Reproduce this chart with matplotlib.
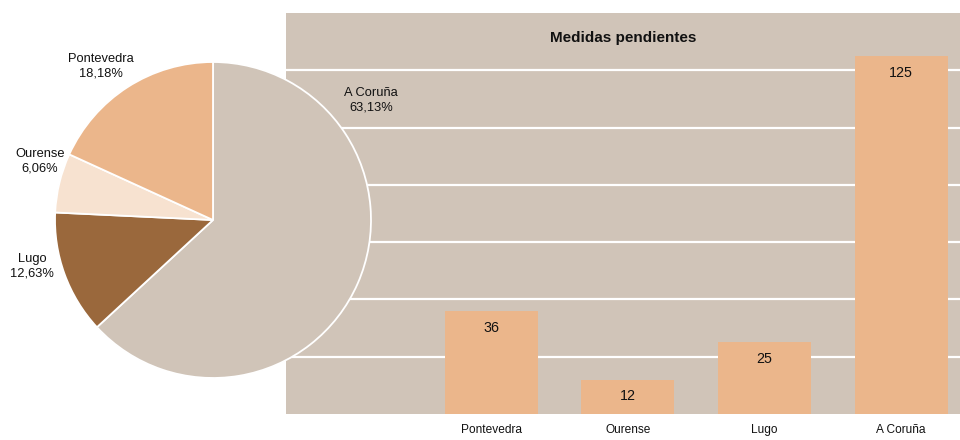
import matplotlib
matplotlib.use("Agg")
import matplotlib.pyplot as plt

plt.rcParams['font.family'] = ['Liberation Sans', 'DejaVu Sans']

# Data
bar_categories = ["Pontevedra", "Ourense", "Lugo", "A Coruña"]
bar_values = [36, 12, 25, 125]
pie_labels = ["A Coruña", "Lugo", "Ourense", "Pontevedra"]
pie_values = [125, 25, 12, 36]
pie_pct_text = ["63,13%", "12,63%", "6,06%", "18,18%"]
title = "Medidas pendientes"

W, H = 960, 440
fig = plt.figure(figsize=(W / 100, H / 100), dpi=100)

bg = "#D0C4B8"
bar_color = "#EBB68B"
pie_colors = ["#D0C4B8", "#9A683C", "#F7E2D0", "#EBB68B"]

# Bar chart axes
bottom_px, top_px = 414, 13
axb = fig.add_axes([286 / W, (H - bottom_px) / H, (960 - 286) / W, (bottom_px - top_px) / H])
axb.set_facecolor(bg)
x = list(range(len(bar_categories)))
axb.bar(x, bar_values, width=0.68, color=bar_color, zorder=3)
axb.set_xlim(-1.5, 3.43)
axb.set_ylim(0, 140)
axb.set_yticks([20, 40, 60, 80, 100, 120])
axb.yaxis.grid(True, color="white", linewidth=1.6, zorder=1)
axb.set_axisbelow(True)
axb.tick_params(axis="y", left=False, labelleft=False)
axb.set_xticks(x)
axb.set_xticklabels(bar_categories, fontsize=8.6, color="#111111")
axb.tick_params(axis="x", length=0, pad=7)
for s in axb.spines.values():
    s.set_visible(False)
for xi, v in zip(x, bar_values):
    axb.annotate(str(v), (xi, v), xytext=(0, -12), textcoords="offset points",
                 ha="center", va="center", fontsize=10.3, color="#111111", zorder=4)
axb.text(0.5, (bottom_px - 38) / (bottom_px - top_px), title, transform=axb.transAxes,
         ha="center", va="center", fontsize=11, fontweight="bold", color="#111111")

# Pie axes
cx, cy, r = 213, 220, 158
axp = fig.add_axes([(cx - r) / W, (H - cy - r) / H, 2 * r / W, 2 * r / H])
axp.pie(pie_values, colors=pie_colors, startangle=90, counterclock=False,
        wedgeprops=dict(edgecolor="white", linewidth=1.3))
axp.set_xlim(-1, 1)
axp.set_ylim(-1, 1)
axp.set_aspect("equal")
axp.axis("off")

label_px = [(371, 100), (32, 266), (40, 161), (101, 66)]
for (px, py), lab, pct in zip(label_px, pie_labels, pie_pct_text):
    axp.text((px - cx) / r, (cy - py) / r, f"{lab}\n{pct}", ha="center", va="center",
             fontsize=9.3, color="#111111", linespacing=1.3, clip_on=False)

fig.savefig("out.png", dpi=100)
